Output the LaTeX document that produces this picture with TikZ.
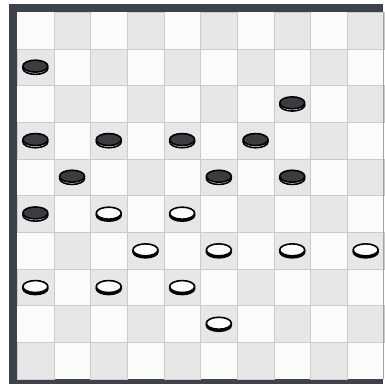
\documentclass[tikz,border=0pt]{standalone}
\usepackage{tikz}

\definecolor{framegray}{HTML}{3E4249}
\definecolor{squaregray}{HTML}{E7E7E7}
\definecolor{squarewhite}{HTML}{FBFBFB}
\definecolor{mangray}{HTML}{3A3C40}

\begin{document}
\begin{tikzpicture}[
    x=1pt,y=-1pt,
    darksq/.style={fill=squaregray,draw=squaregray!88!black,line width=0.4pt},
    rim/.style={draw=black,line width=1.6pt},
    blackman/.pic={
      \filldraw[fill=white,rim] (0,1.3) ellipse (12.5 and 6);
      \filldraw[fill=mangray,rim] (0,-0.9) ellipse (12.5 and 6);
    },
    whiteman/.pic={
      \filldraw[fill=black,rim] (0,1.3) ellipse (12.5 and 6);
      \filldraw[fill=white,rim] (0,-0.7) ellipse (12.5 and 6);
    }]
  \def\sq{36.7}
  \useasboundingbox (0,0) rectangle (385,383);
  \clip (0,0) rectangle (385,383);
  % frame and board
  \fill[framegray] (9,4) rectangle (383,393);
  \fill[squarewhite] (17,12) rectangle (386,379);
  \foreach \r in {0,...,9}
    \foreach \c in {0,...,9} {
      \pgfmathtruncatemacro\odd{mod(\r+\c,2)}
      \ifnum\odd=1
        \filldraw[darksq] ({17+\c*\sq},{12+\r*\sq}) rectangle ++(\sq,\sq);
      \fi
    }
  \draw[squaregray!70!black,line width=0.6pt] (383.5,12) -- (383.5,379);
  % black men
  \foreach \c/\r in {0/1,7/2,0/3,2/3,4/3,6/3,1/4,5/4,7/4,0/5}
    \pic at ({17+(\c+0.5)*\sq},{12+(\r+0.5)*\sq}) {blackman};
  % white men
  \foreach \c/\r in {2/5,4/5,3/6,5/6,7/6,9/6,0/7,2/7,4/7,5/8}
    \pic at ({17+(\c+0.5)*\sq},{12+(\r+0.5)*\sq}) {whiteman};
\end{tikzpicture}
\end{document}
